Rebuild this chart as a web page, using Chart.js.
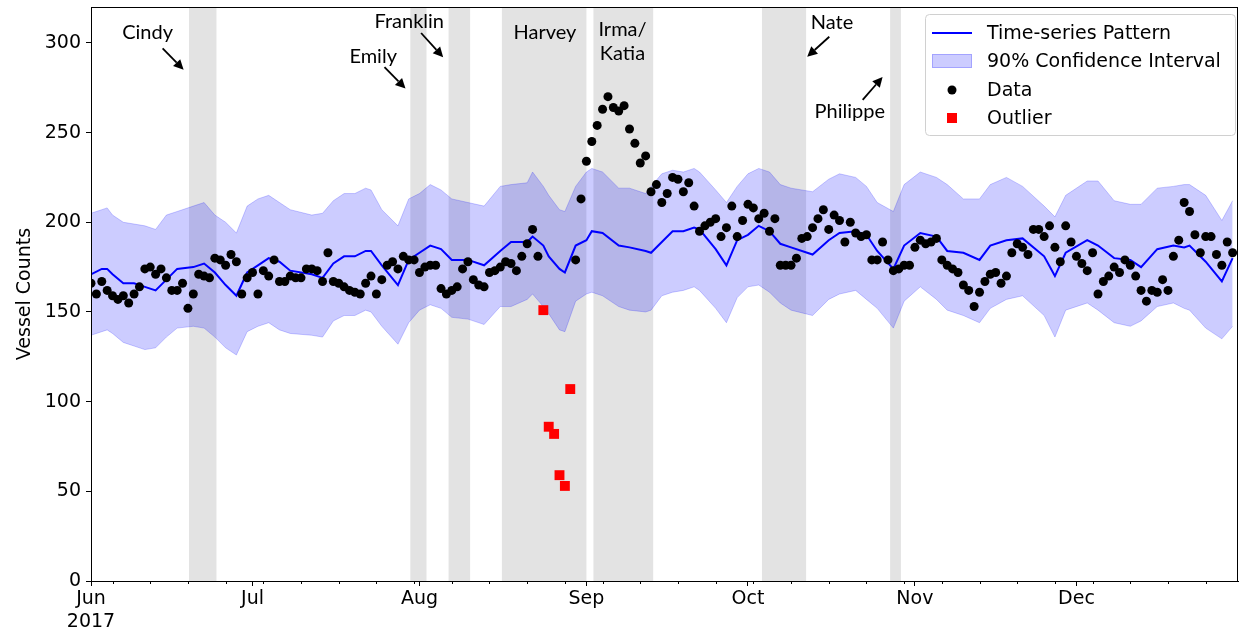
<!DOCTYPE html>
<html>
<head>
<meta charset="utf-8">
<script src="https://cdn.jsdelivr.net/npm/chart.js@4.4.0/dist/chart.umd.min.js"></script>
<style>
  html, body { margin: 0; padding: 0; background: #fff; }
</style>
</head>
<body>
<canvas id="chart" width="1245" height="638"></canvas>
<script>
// x values are days since 2017-06-01
const monthDays = [0, 30, 61, 92, 122, 153, 183];
const monthLabels = ['Jun', 'Jul', 'Aug', 'Sep', 'Oct', 'Nov', 'Dec'];

// daily vessel counts, index = day; null where the day is an outlier
const dataValues = [
  166,160,167,162,159,157,159,155,160,164,
  174,175,171,174,169,162,162,166,152,160,
  171,170,169,180,179,176,182,178,160,169,
  172,160,173,170,179,167,167,170,169,169,
  174,174,173,167,183,167,166,164,162,161,
  160,166,170,160,168,176,178,174,181,179,
  179,172,175,176,176,163,160,162,164,174,
  178,168,165,164,172,173,175,178,177,173,
  181,188,196,181,null,null,null,null,null,null,
  179,213,234,245,254,263,270,264,262,265,
  252,244,233,237,217,221,211,216,225,224,
  217,222,209,195,198,200,202,192,197,209,
  192,201,210,208,202,205,195,202,176,176,
  176,180,191,192,197,202,207,196,204,201,
  189,200,194,192,193,179,179,189,179,173,
  174,176,176,186,190,188,189,191,179,176,
  174,172,165,162,153,161,167,171,172,166,
  170,183,188,186,182,196,196,192,198,186,
  178,198,189,181,177,173,183,160,167,170,
  175,172,179,176,170,162,156,162,161,168,
  162,181,190,211,206,193,183,192,192,182,
  176,189,183
];

const outlierDays = [84, 85, 86, 87, 88, 89];
const outlierValues = [151, 86, 82, 59, 53, 107];

const bandDays = [0,2,3,4,6,8,10,12,14,16,19,21,23,25,27,29,31,33,35,37,41,43,45,47,49,51,52,54,57,59,
  61,63,65,67,70,73,76,78,81,82,84,85,87,88,90,92,93,95,98,100,103,104,106,108,110,112,113,116,118,120,
  122,124,126,128,130,134,137,139,142,144,146,149,151,154,157,159,162,165,167,170,173,177,179,181,185,187,
  190,193,195,198,201,203,204,207,210,212];
const patternValues = [171,174,174,171,166,166,164,162,168,174,175,177,172,165,159,172,176,180,178,173,
  171,169,177,181,181,184,184,176,165,179,183,187,185,179,179,176,184,189,189,192,
  187,181,174,172,187,190,195,194,187,186,184,183,189,195,195,197,196,185,176,190,
  193,198,195,188,186,182,190,194,195,193,184,174,187,194,192,184,183,179,187,190,
  191,181,170,183,190,187,180,179,175,185,187,186,187,178,167,180];
const upperValues = [205,207,208,204,200,199,198,196,204,206,209,211,204,200,194,209,213,215,211,207,
  204,205,212,216,216,219,218,207,198,213,216,221,218,213,211,209,220,221,222,228,
  220,215,207,206,220,228,230,228,219,219,216,220,227,229,228,230,228,218,211,220,
  227,230,228,221,219,217,224,227,225,220,211,206,221,228,225,221,213,213,221,225,
  220,209,203,215,223,223,212,210,210,219,220,221,221,215,201,212];
const lowerValues = [137,139,140,138,133,131,129,130,136,141,142,141,136,130,126,139,142,144,140,138,
  137,136,145,148,148,151,150,142,132,144,151,154,152,147,146,143,153,153,157,160,
  153,149,140,139,156,160,161,159,153,151,150,151,159,161,162,164,162,152,144,158,
  164,165,161,155,151,148,157,160,162,157,152,141,156,164,157,151,148,144,152,157,
  159,148,136,151,155,151,144,142,145,153,155,152,151,141,135,142];

// storm periods (start day, end day)
const stormNames = ['Cindy', 'Emily', 'Franklin', 'Harvey', 'Irma/Katia', 'Nate', 'Philippe'];
const stormStart = [18.2, 59.3, 66.4, 76.3, 93.3, 124.6, 148.4];
const stormEnd = [23.3, 62.3, 70.4, 92.0, 104.4, 132.8, 150.4];

// annotation text placement (day, count) and optional arrow tail/head
const notes = [
  { lines: ['Cindy'], at: [10.5, 306], arrow: [[13.3, 297], [17.2, 285]] },
  { lines: ['Emily'], at: [52.4, 292.5], arrow: [[54.5, 286.5], [58.4, 274.5]] },
  { lines: ['Franklin'], at: [59.1, 312], arrow: [[61.3, 305.5], [65.4, 292]] },
  { lines: ['Harvey'], at: [84.3, 305.5] },
  { lines: ['Irma/', 'Katia'], at: [98.7, 307.5] },
  { lines: ['Nate'], at: [137.6, 311.6], arrow: [[137.1, 303.4], [133.0, 292.3]] },
  { lines: ['Philippe'], at: [140.9, 261.5], arrow: [[143.3, 268.2], [147.0, 281]] }
];

const toXY = (xs, ys) => xs.map((x, i) => ({ x: x, y: ys[i] }));
const dataPoints = dataValues.map((v, i) => ({ x: i, y: v })).filter(p => p.y !== null);

const bandFill = 'rgba(0,0,255,0.2)';

const stormPlugin = {
  id: 'storms',
  beforeDatasetsDraw(chart) {
    const { ctx, chartArea: a, scales: { x } } = chart;
    ctx.save();
    ctx.fillStyle = '#e3e3e3';
    stormStart.forEach((s, i) => {
      const x0 = x.getPixelForValue(s), x1 = x.getPixelForValue(stormEnd[i]);
      ctx.fillRect(x0, a.top, x1 - x0, a.bottom - a.top);
    });
    ctx.restore();
  }
};

function drawArrow(ctx, x1, y1, x2, y2) {
  const ang = Math.atan2(y2 - y1, x2 - x1);
  const hl = 10, hw = 5;
  const bx = x2 - hl * Math.cos(ang), by = y2 - hl * Math.sin(ang);
  ctx.beginPath();
  ctx.moveTo(x1, y1);
  ctx.lineTo(bx, by);
  ctx.stroke();
  ctx.beginPath();
  ctx.moveTo(x2, y2);
  ctx.lineTo(bx + hw * Math.sin(ang), by - hw * Math.cos(ang));
  ctx.lineTo(bx - hw * Math.sin(ang), by + hw * Math.cos(ang));
  ctx.closePath();
  ctx.fill();
}

const notePlugin = {
  id: 'notes',
  afterDatasetsDraw(chart) {
    const { ctx, scales: { x, y } } = chart;
    ctx.save();
    ctx.fillStyle = '#000';
    ctx.strokeStyle = '#000';
    ctx.lineWidth = 1.8;
    ctx.font = '20px Lato';
    ctx.textAlign = 'center';
    ctx.textBaseline = 'middle';
    notes.forEach(n => {
      const px = x.getPixelForValue(n.at[0]), py = y.getPixelForValue(n.at[1]);
      n.lines.forEach((t, i) => ctx.fillText(t, px, py + i * 24));
      if (n.arrow) {
        const [t, h] = n.arrow;
        drawArrow(ctx, x.getPixelForValue(t[0]), y.getPixelForValue(t[1]),
          x.getPixelForValue(h[0]), y.getPixelForValue(h[1]));
      }
    });
    ctx.restore();
  }
};

const framePlugin = {
  id: 'frame',
  afterDraw(chart) {
    const { ctx, chartArea: a, scales: { x } } = chart;
    ctx.save();
    ctx.strokeStyle = '#000';
    ctx.lineWidth = 1;
    ctx.strokeRect(Math.round(a.left) + 0.5, Math.round(a.top) + 0.5,
      Math.round(a.right - a.left) - 1, Math.round(a.bottom - a.top));
    // weekly minor ticks (Mondays)
    ctx.beginPath();
    for (let d = 4; d <= 213; d += 7) {
      const px = Math.round(x.getPixelForValue(d)) + 0.5;
      ctx.moveTo(px, a.bottom);
      ctx.lineTo(px, a.bottom + 3);
    }
    ctx.stroke();

    // legend
    const lx = a.right - 313, ly = a.top + 7, lw = 310, lh = 121;
    ctx.fillStyle = 'rgba(255,255,255,0.85)';
    ctx.strokeStyle = '#d0d0d0';
    ctx.beginPath();
    ctx.roundRect(lx + 0.5, ly + 0.5, lw, lh, 4);
    ctx.fill();
    ctx.stroke();
    const rows = [ly + 19, ly + 47, ly + 76, ly + 104];
    const mx = lx + 27;
    ctx.strokeStyle = '#0000ff';
    ctx.lineWidth = 2;
    ctx.beginPath(); ctx.moveTo(lx + 7, rows[0]); ctx.lineTo(lx + 47, rows[0]); ctx.stroke();
    ctx.fillStyle = bandFill;
    ctx.fillRect(lx + 7, rows[1] - 7, 40, 14);
    ctx.strokeStyle = bandFill; ctx.lineWidth = 1;
    ctx.strokeRect(lx + 7.5, rows[1] - 6.5, 39, 13);
    ctx.fillStyle = '#000';
    ctx.beginPath(); ctx.arc(mx, rows[2], 4.5, 0, Math.PI * 2); ctx.fill();
    ctx.fillStyle = '#ff0000';
    ctx.fillRect(mx - 5, rows[3] - 5, 10, 10);
    ctx.fillStyle = '#000';
    ctx.font = '19px "DejaVu Sans"';
    ctx.textAlign = 'left';
    ctx.textBaseline = 'middle';
    const labels = ['Time-series Pattern', '90% Confidence Interval', 'Data', 'Outlier'];
    labels.forEach((t, i) => ctx.fillText(t, lx + 62, rows[i] + 1));
    ctx.restore();
  }
};

const tickFont = { family: 'DejaVu Sans', size: 19 };

new Chart(document.getElementById('chart'), {
  type: 'line',
  data: {
    datasets: [
      {
        label: 'Outlier', type: 'scatter', data: toXY(outlierDays, outlierValues),
        pointStyle: 'rect', pointRadius: 7, backgroundColor: '#ff0000', borderWidth: 0, order: 0
      },
      {
        label: 'Data', type: 'scatter', data: dataPoints,
        pointRadius: 4.5, backgroundColor: '#000', borderWidth: 0, order: 1
      },
      {
        label: 'Time-series Pattern', data: toXY(bandDays, patternValues),
        borderColor: '#0000ff', borderWidth: 2, pointRadius: 0, tension: 0, fill: false, order: 2
      },
      {
        label: '90% Confidence Interval', data: toXY(bandDays, upperValues),
        borderColor: bandFill, borderWidth: 1, backgroundColor: bandFill,
        pointRadius: 0, tension: 0, fill: '+1', order: 3
      },
      {
        label: 'lower', data: toXY(bandDays, lowerValues),
        borderColor: bandFill, borderWidth: 1, pointRadius: 0, tension: 0, fill: false, order: 4
      }
    ]
  },
  options: {
    responsive: false,
    animation: false,
    layout: { padding: { left: 0, right: 2, top: 7, bottom: 0 } },
    plugins: { legend: { display: false }, tooltip: { enabled: false } },
    scales: {
      x: {
        type: 'linear', min: 0, max: 213,
        afterBuildTicks: s => { s.ticks = monthDays.map(v => ({ value: v })); },
        afterFit: s => { s.height = 57; s.paddingLeft = 0; s.paddingRight = 0; },
        ticks: {
          autoSkip: false, maxRotation: 0, font: tickFont, color: '#000', padding: 2,
          callback: v => {
            const i = monthDays.indexOf(v);
            return i === 0 ? [monthLabels[0], '2017'] : monthLabels[i];
          }
        },
        grid: { drawOnChartArea: false, drawTicks: true, tickLength: 5, color: '#000' },
        border: { color: '#000', width: 1 }
      },
      y: {
        min: 0, max: 320,
        afterBuildTicks: s => { s.ticks = [0, 50, 100, 150, 200, 250, 300].map(v => ({ value: v })); },
        afterFit: s => { s.width = 91; s.paddingTop = 0; s.paddingBottom = 0; },
        ticks: { font: tickFont, color: '#000', padding: 5 },
        grid: { drawOnChartArea: false, drawTicks: true, tickLength: 5, color: '#000' },
        border: { color: '#000', width: 1 },
        title: {
          display: true, text: 'Vessel Counts', font: tickFont, color: '#000',
          padding: { top: 14, bottom: 0 }
        }
      }
    }
  },
  plugins: [stormPlugin, notePlugin, framePlugin]
});
</script>
</body>
</html>
